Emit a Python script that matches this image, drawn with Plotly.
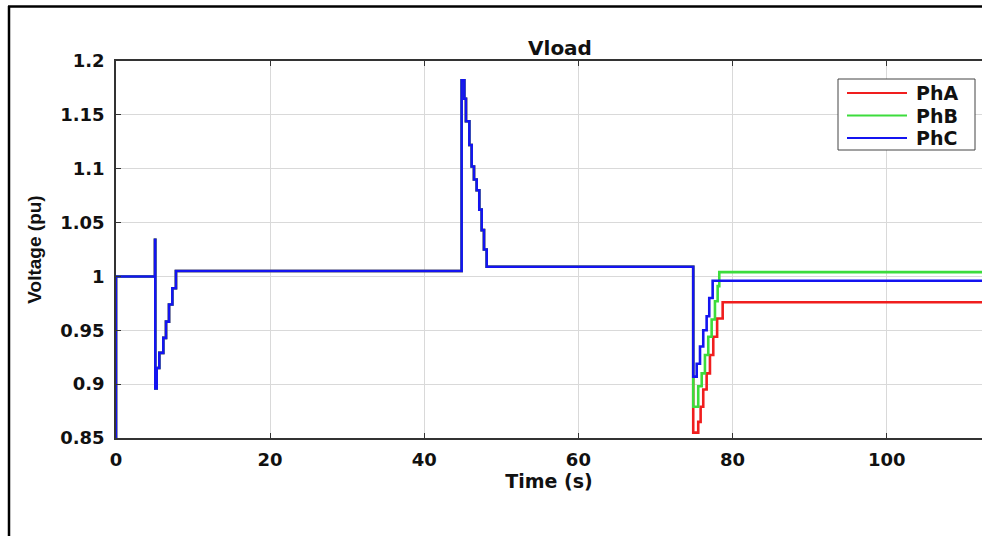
import plotly.graph_objects as go

# ---- data: load voltage per phase (pu) vs time (s), step-wise samples ----
# common trajectory of all three phases up to the 75 s disturbance
common_t = [0, 0, 5.06, 5.1, 5.28, 5.62, 6.14, 6.49, 6.88, 7.31, 7.78,
            44.85, 45.2, 45.41, 45.85, 46.15, 46.45, 46.8, 47.14, 47.45, 47.75, 48.1]
common_v = [0.85, 1.0, 1.034, 0.896, 0.915, 0.929, 0.943, 0.958, 0.974, 0.989, 1.005,
            1.182, 1.165, 1.144, 1.122, 1.102, 1.09, 1.08, 1.062, 1.043, 1.025, 1.009]

# recovery after the 75 s sag, per phase
pha_t = [74.9, 75.55, 75.86, 76.2, 76.64, 77.07, 77.5, 78.0, 78.72, 112.4]
pha_v = [0.855, 0.865, 0.879, 0.895, 0.910, 0.927, 0.944, 0.961, 0.976, 0.976]

phb_t = [74.9, 75.55, 76.0, 76.42, 76.85, 77.29, 77.72, 78.07, 78.28, 112.4]
phb_v = [0.879, 0.898, 0.910, 0.927, 0.944, 0.960, 0.977, 0.991, 1.004, 1.004]

phc_t = [74.9, 75.35, 75.78, 76.2, 76.64, 76.98, 77.42, 112.4]
phc_v = [0.907, 0.919, 0.935, 0.950, 0.963, 0.980, 0.996, 0.996]

phase_names = ["PhA", "PhB", "PhC"]
phase_colors = ["#f01e1e", "#3cdc3c", "#1414f0"]
phase_t = [pha_t, phb_t, phc_t]
phase_v = [pha_v, phb_v, phc_v]

y_ticks = [0.85, 0.9, 0.95, 1.0, 1.05, 1.1, 1.15, 1.2]
x_ticks = [0, 20, 40, 60, 80, 100]

# ---- geometry of the plotting area (pixels) ----
W, H = 982, 536
L, R, T, B = 116, 0, 61, 98
pw, ph = W - L - R, H - T - B


def px_x(px):
    return (px - L) / pw


def px_y(py):
    return (H - B - py) / ph


FONT = "DejaVu Sans"

fig = go.Figure()
for name, t, v, color in zip(phase_names, phase_t, phase_v, phase_colors):
    fig.add_trace(go.Scatter(
        x=common_t + t, y=common_v + v, name=name, mode="lines",
        line=dict(color=color, width=2.6, shape="hv"), showlegend=False,
    ))

fig.update_layout(
    width=W, height=H,
    margin=dict(l=L, r=R, t=T, b=B),
    paper_bgcolor="white", plot_bgcolor="white",
    title=dict(text="Vload", x=px_x(560), xref="paper", xanchor="center",
               y=1 - 47.5 / H, yanchor="middle",
               font=dict(family=FONT, size=20, color="#111", weight="bold")),
)

fig.update_xaxes(
    range=[0, 112.37], tickvals=x_ticks,
    showgrid=True, gridcolor="#d9d9d9", gridwidth=1, zeroline=False,
    showline=True, linecolor="#333", linewidth=1.5, mirror="ticks",
    ticks="inside", ticklen=5, tickcolor="#333", ticklabelstandoff=5,
    tickfont=dict(family=FONT, size=18, color="#111", weight="bold"),
    title=dict(text="Time (s)", standoff=3,
               font=dict(family=FONT, size=19, color="#111", weight="bold")),
)
fig.update_yaxes(
    range=[0.85, 1.2], tickvals=y_ticks,
    showgrid=True, gridcolor="#d9d9d9", gridwidth=1, zeroline=False,
    showline=True, linecolor="#333", linewidth=1.5,
    ticks="inside", ticklen=5, tickcolor="#333", ticklabelstandoff=6,
    tickfont=dict(family=FONT, size=18, color="#111", weight="bold"),
    title=dict(text="Voltage (pu)", standoff=14,
               font=dict(family="Liberation Sans", size=19, color="#111", weight="bold")),
)

# legend box drawn in pixel positions with long line samples
fig.add_shape(type="rect", xref="paper", yref="paper",
              x0=px_x(838), x1=px_x(975), y0=px_y(150), y1=px_y(79),
              fillcolor="white", line=dict(color="#444", width=1), layer="above")
for i, (name, color) in enumerate(zip(phase_names, phase_colors)):
    yy = px_y(93 + 22.5 * i)
    fig.add_shape(type="line", xref="paper", yref="paper",
                  x0=px_x(847), x1=px_x(907), y0=yy, y1=yy,
                  line=dict(color=color, width=2), layer="above")
    fig.add_annotation(x=px_x(914), y=yy, xref="paper", yref="paper",
                       text=name, showarrow=False, xanchor="left", yanchor="middle",
                       font=dict(family=FONT, size=19, color="#111", weight="bold"))

# outer frame around the figure
fig.add_shape(type="line", xref="paper", yref="paper",
              x0=px_x(9), x1=px_x(9), y0=px_y(6), y1=px_y(H + 5),
              line=dict(color="black", width=2.5))
fig.add_shape(type="line", xref="paper", yref="paper",
              x0=px_x(8), x1=px_x(W + 5), y0=px_y(6.5), y1=px_y(6.5),
              line=dict(color="black", width=2.5))

fig.write_html("out.html")
